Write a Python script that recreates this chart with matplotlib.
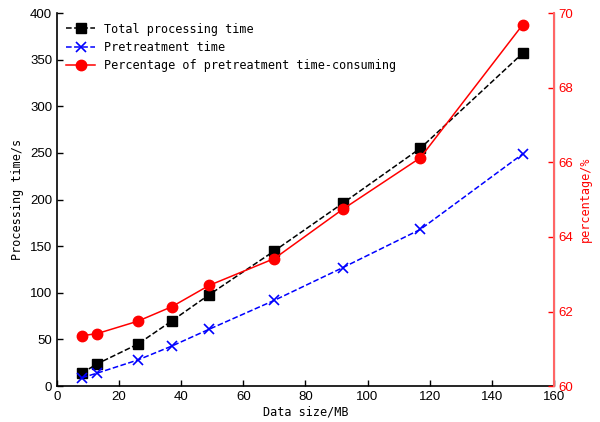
import numpy as np
import matplotlib
matplotlib.use("Agg")
import matplotlib.pyplot as plt

# data
size_mb = [8, 13, 26, 37, 49, 70, 92, 117, 150]
total_time = [14, 24, 45, 70, 98, 145, 196, 255, 357]
pre_time = [9, 14, 28, 43, 61, 92, 127, 168, 249]
pre_pct = [61.35, 61.41, 61.74, 62.13, 62.70, 63.42, 64.74, 66.12, 69.69]

mono = "DejaVu Sans Mono"
plt.rcParams["font.family"] = "Liberation Sans"

fig = plt.figure(figsize=(6, 4.22), dpi=100)
ax = fig.add_axes([0.095, 0.085, 0.828, 0.884])
ax2 = ax.twinx()

l1, = ax.plot(size_mb, total_time, "k--s", ms=7.5, lw=1.1, label="Total processing time")
l2, = ax.plot(size_mb, pre_time, "b--x", ms=7.5, mew=1.2, lw=1.1, label="Pretreatment time")
l3, = ax2.plot(size_mb, pre_pct, "r-o", ms=7.5, lw=1.1,
               label="Percentage of pretreatment time-consuming")

ax.set_xlim(0, 160)
ax.set_ylim(0, 400)
ax2.set_ylim(60, 70)
ax.set_xticks(np.arange(0, 161, 20))
ax.set_yticks(np.arange(0, 401, 50))
ax2.set_yticks(np.arange(60, 71, 2))

ax.tick_params(direction="in", labelsize=9.5, length=4, width=1)
ax2.tick_params(direction="in", labelsize=9.5, length=4, width=1,
                colors="red")
ax.spines["top"].set_visible(False)
ax2.spines["top"].set_visible(False)
ax2.spines["right"].set_color("#ff6666")
ax2.spines["right"].set_linewidth(1.5)
ax.spines["left"].set_linewidth(1.2)
ax.spines["bottom"].set_linewidth(1.2)
ax2.spines["left"].set_visible(False)
ax2.spines["bottom"].set_visible(False)

ax.set_xlabel("Data size/MB", family=mono, fontsize=8.5, labelpad=2)
ax.set_ylabel("Processing time/s", family=mono, fontsize=8.5, labelpad=4)
ax2.set_ylabel("percentage/%", family=mono, fontsize=8.5, color="red", labelpad=4)

ax.legend(handles=[l1, l2, l3], loc="upper left", frameon=False,
          prop={"family": mono, "size": 8.5}, handlelength=2.4,
          borderaxespad=0.4, labelspacing=0.45, bbox_to_anchor=(0.0, 1.0))

fig.savefig("out.png", dpi=100)
